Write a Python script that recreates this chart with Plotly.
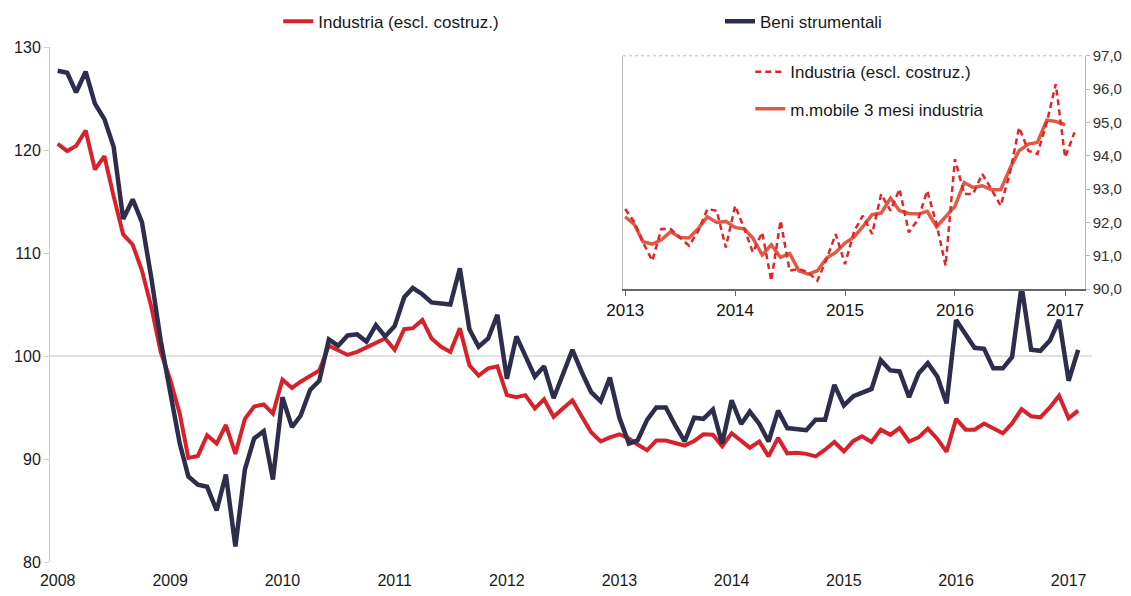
import pandas as pd
import plotly.graph_objects as go

# ---------------- data (monthly, Jan 2008 - Feb 2017) ----------------
months = pd.date_range("2008-01-01", periods=110, freq="MS")
year_ticks = pd.date_range("2008-01-01", "2017-01-01", freq="YS")
inset_ticks = pd.date_range("2013-01-01", "2017-01-01", freq="YS")

industria = [
    120.6, 119.9, 120.4, 121.9, 118.1, 119.4, 115.5, 111.8, 110.8, 108.3, 104.7, 100.4,  # 2008
    97.7, 94.4, 90.1, 90.3, 92.3, 91.5, 93.3, 90.5, 93.9, 95.1, 95.3, 94.4,              # 2009
    97.7, 96.9, 97.5, 98.1, 98.6, 101.0, 100.6, 100.1, 100.4, 100.8, 101.2, 101.7,       # 2010
    100.6, 102.6, 102.7, 103.5, 101.7, 100.9, 100.4, 102.7, 99.1, 98.1, 98.8, 99.0,      # 2011
    96.2, 96.0, 96.2, 94.9, 95.8, 94.1, 94.9, 95.7, 94.1, 92.6, 91.7, 92.1,              # 2012
    92.4, 92.0, 91.4, 90.85, 91.8, 91.8, 91.55, 91.3, 91.75, 92.4, 92.35, 91.25,         # 2013
    92.5, 91.8, 91.1, 91.7, 90.25, 92.05, 90.55, 90.6, 90.5, 90.25, 90.9, 91.65,         # 2014
    90.75, 91.75, 92.2, 91.65, 92.85, 92.35, 93.0, 91.7, 92.1, 92.95, 91.95, 90.7,       # 2015
    93.9, 92.85, 92.85, 93.45, 93.0, 92.5, 93.45, 94.85, 94.15, 94.05, 95.0, 96.15,      # 2016
    93.95, 94.7,                                                                         # 2017
]

beni_strumentali = [
    127.7, 127.5, 125.6, 127.6, 124.5, 123.0, 120.3, 113.3, 115.2, 113.0, 107.5, 101.5,  # 2008
    96.5, 91.5, 88.3, 87.5, 87.3, 85.0, 88.5, 81.5, 89.0, 92.0, 92.7, 88.0,              # 2009
    96.0, 93.1, 94.2, 96.7, 97.6, 101.6, 101.0, 102.0, 102.1, 101.4, 103.0, 101.9,       # 2010
    102.9, 105.7, 106.6, 106.0, 105.2, 105.1, 105.0, 108.5, 102.6, 100.9, 101.7, 104.0,  # 2011
    97.8, 101.9, 99.9, 98.0, 99.0, 95.9, 98.2, 100.6, 98.4, 96.5, 95.6, 97.9,            # 2012
    94.0, 91.5, 91.8, 93.8, 95.0, 95.0, 93.3, 91.7, 94.0, 93.9, 94.8, 91.5,              # 2013
    95.7, 93.4, 94.6, 93.4, 91.7, 94.7, 93.0, 92.9, 92.8, 93.8, 93.8, 97.2,              # 2014
    95.2, 96.1, 96.4, 96.8, 99.6, 98.6, 98.5, 96.0, 98.3, 99.3, 98.0, 95.4,              # 2015
    103.5, 102.2, 100.8, 100.7, 98.8, 98.8, 99.9, 106.8, 100.6, 100.5, 101.5, 103.5,     # 2016
    97.6, 100.6,                                                                         # 2017
]

# inset: 3-month moving average of industria, Jan 2013 - Jan 2017
mm3_industria = [
    92.17, 91.93, 91.42, 91.35, 91.48, 91.72, 91.55, 91.53, 91.82, 92.17, 92.0, 92.03,
    91.85, 91.8, 91.53, 91.02, 91.33, 90.95, 91.07, 90.55, 90.45, 90.55, 90.93, 91.1,
    91.38, 91.57, 91.87, 92.23, 92.28, 92.73, 92.35, 92.27, 92.25, 92.33, 91.87, 92.18,
    92.48, 93.2, 93.05, 93.1, 92.98, 92.98, 93.6, 94.15, 94.35, 94.4, 95.07, 95.03,
    94.93,
]

inset_months = months[60:]
inset_industria = industria[60:]
mm3_months = months[60:60 + len(mm3_industria)]

FONT = "Liberation Sans, Arial, sans-serif"
RED = "#D8222B"
NAVY = "#2D2E4C"

fig = go.Figure()

fig.add_trace(go.Scatter(
    x=months, y=industria, mode="lines", name="Industria (escl. costruz.)",
    line=dict(color=RED, width=4), legend="legend", hoverinfo="skip"))
fig.add_trace(go.Scatter(
    x=months, y=beni_strumentali, mode="lines", name="Beni strumentali",
    line=dict(color=NAVY, width=4.5), legend="legend2", hoverinfo="skip"))

fig.add_trace(go.Scatter(
    x=mm3_months, y=mm3_industria, mode="lines", name="m.mobile 3 mesi industria",
    line=dict(color="#E05A45", width=3.5), xaxis="x2", yaxis="y2",
    legend="legend3", legendgroup="b", legendrank=2, hoverinfo="skip"))
fig.add_trace(go.Scatter(
    x=inset_months, y=inset_industria, mode="lines", name="Industria (escl. costruz.)",
    line=dict(color="#E1262B", width=2.5, dash="6px,4px"), xaxis="x2", yaxis="y2",
    legend="legend3", legendgroup="a", legendrank=1, hoverinfo="skip"))

fig.add_hline(y=100, line=dict(color="#c4c4c4", width=1), layer="below")

# dotted top border of the inset frame
fig.add_shape(type="line", xref="x2 domain", yref="y2 domain", x0=0, x1=1, y0=1, y1=1,
              line=dict(color="#bdbdbd", width=1, dash="dot"))

# the page body adds an 8px offset; margins compensate so the plot lands where the reference has it
fig.update_layout(
    width=1131, height=596,
    margin=dict(l=42, r=47, t=39, b=42, autoexpand=False),
    paper_bgcolor="white", plot_bgcolor="white",
    separators=",.",
    font=dict(family=FONT, size=16, color="#1a1a1a"),
    showlegend=True,
    xaxis=dict(
        type="date", range=["2007-12-07", "2017-03-18"],
        tickvals=list(year_ticks), tickformat="%Y",
        showgrid=False, showline=False, zeroline=False,
        ticks="outside", ticklen=4, tickcolor="rgba(0,0,0,0)",
        tickfont=dict(size=16, color="#1a1a1a"),
    ),
    yaxis=dict(
        range=[80, 130], tickvals=[80, 90, 100, 110, 120, 130],
        showgrid=False, zeroline=False,
        showline=True, linecolor="#cfcfcf", linewidth=1,
        ticks="outside", ticklen=5, tickcolor="#cfcfcf",
        tickfont=dict(size=16, color="#1a1a1a"),
    ),
    xaxis2=dict(
        domain=[0.550, 0.993], anchor="y2", type="date",
        range=["2012-12-25", "2017-03-07"],
        tickvals=list(inset_ticks), tickformat="%Y",
        showgrid=False, zeroline=False,
        showline=True, linecolor="#666666", linewidth=1.5,
        ticks="outside", ticklen=5, tickcolor="#666666",
        tickfont=dict(size=17, color="#111111"),
    ),
    yaxis2=dict(
        domain=[0.530, 0.983], anchor="x2", side="right",
        range=[90, 97], tickvals=[90, 91, 92, 93, 94, 95, 96, 97], tickformat=".1f",
        showgrid=False, zeroline=False,
        showline=True, mirror=True, linecolor="#b8b8b8", linewidth=1,
        ticks="outside", ticklen=4, tickcolor="#b8b8b8",
        tickfont=dict(size=15, color="#333333"),
    ),
    legend=dict(x=0.219, y=1.049, xanchor="left", yanchor="middle",
                orientation="h", bgcolor="rgba(0,0,0,0)",
                font=dict(size=17, color="#1a1a1a")),
    legend2=dict(x=0.643, y=1.049, xanchor="left", yanchor="middle",
                 orientation="h", bgcolor="rgba(0,0,0,0)",
                 font=dict(size=17, color="#1a1a1a")),
    legend3=dict(x=0.672, y=0.986, xanchor="left", yanchor="top",
                 orientation="v", bgcolor="rgba(0,0,0,0)", tracegroupgap=12,
                 traceorder="grouped",
                 font=dict(size=17, color="#1a1a1a")),
)

fig.write_html("out.html")
